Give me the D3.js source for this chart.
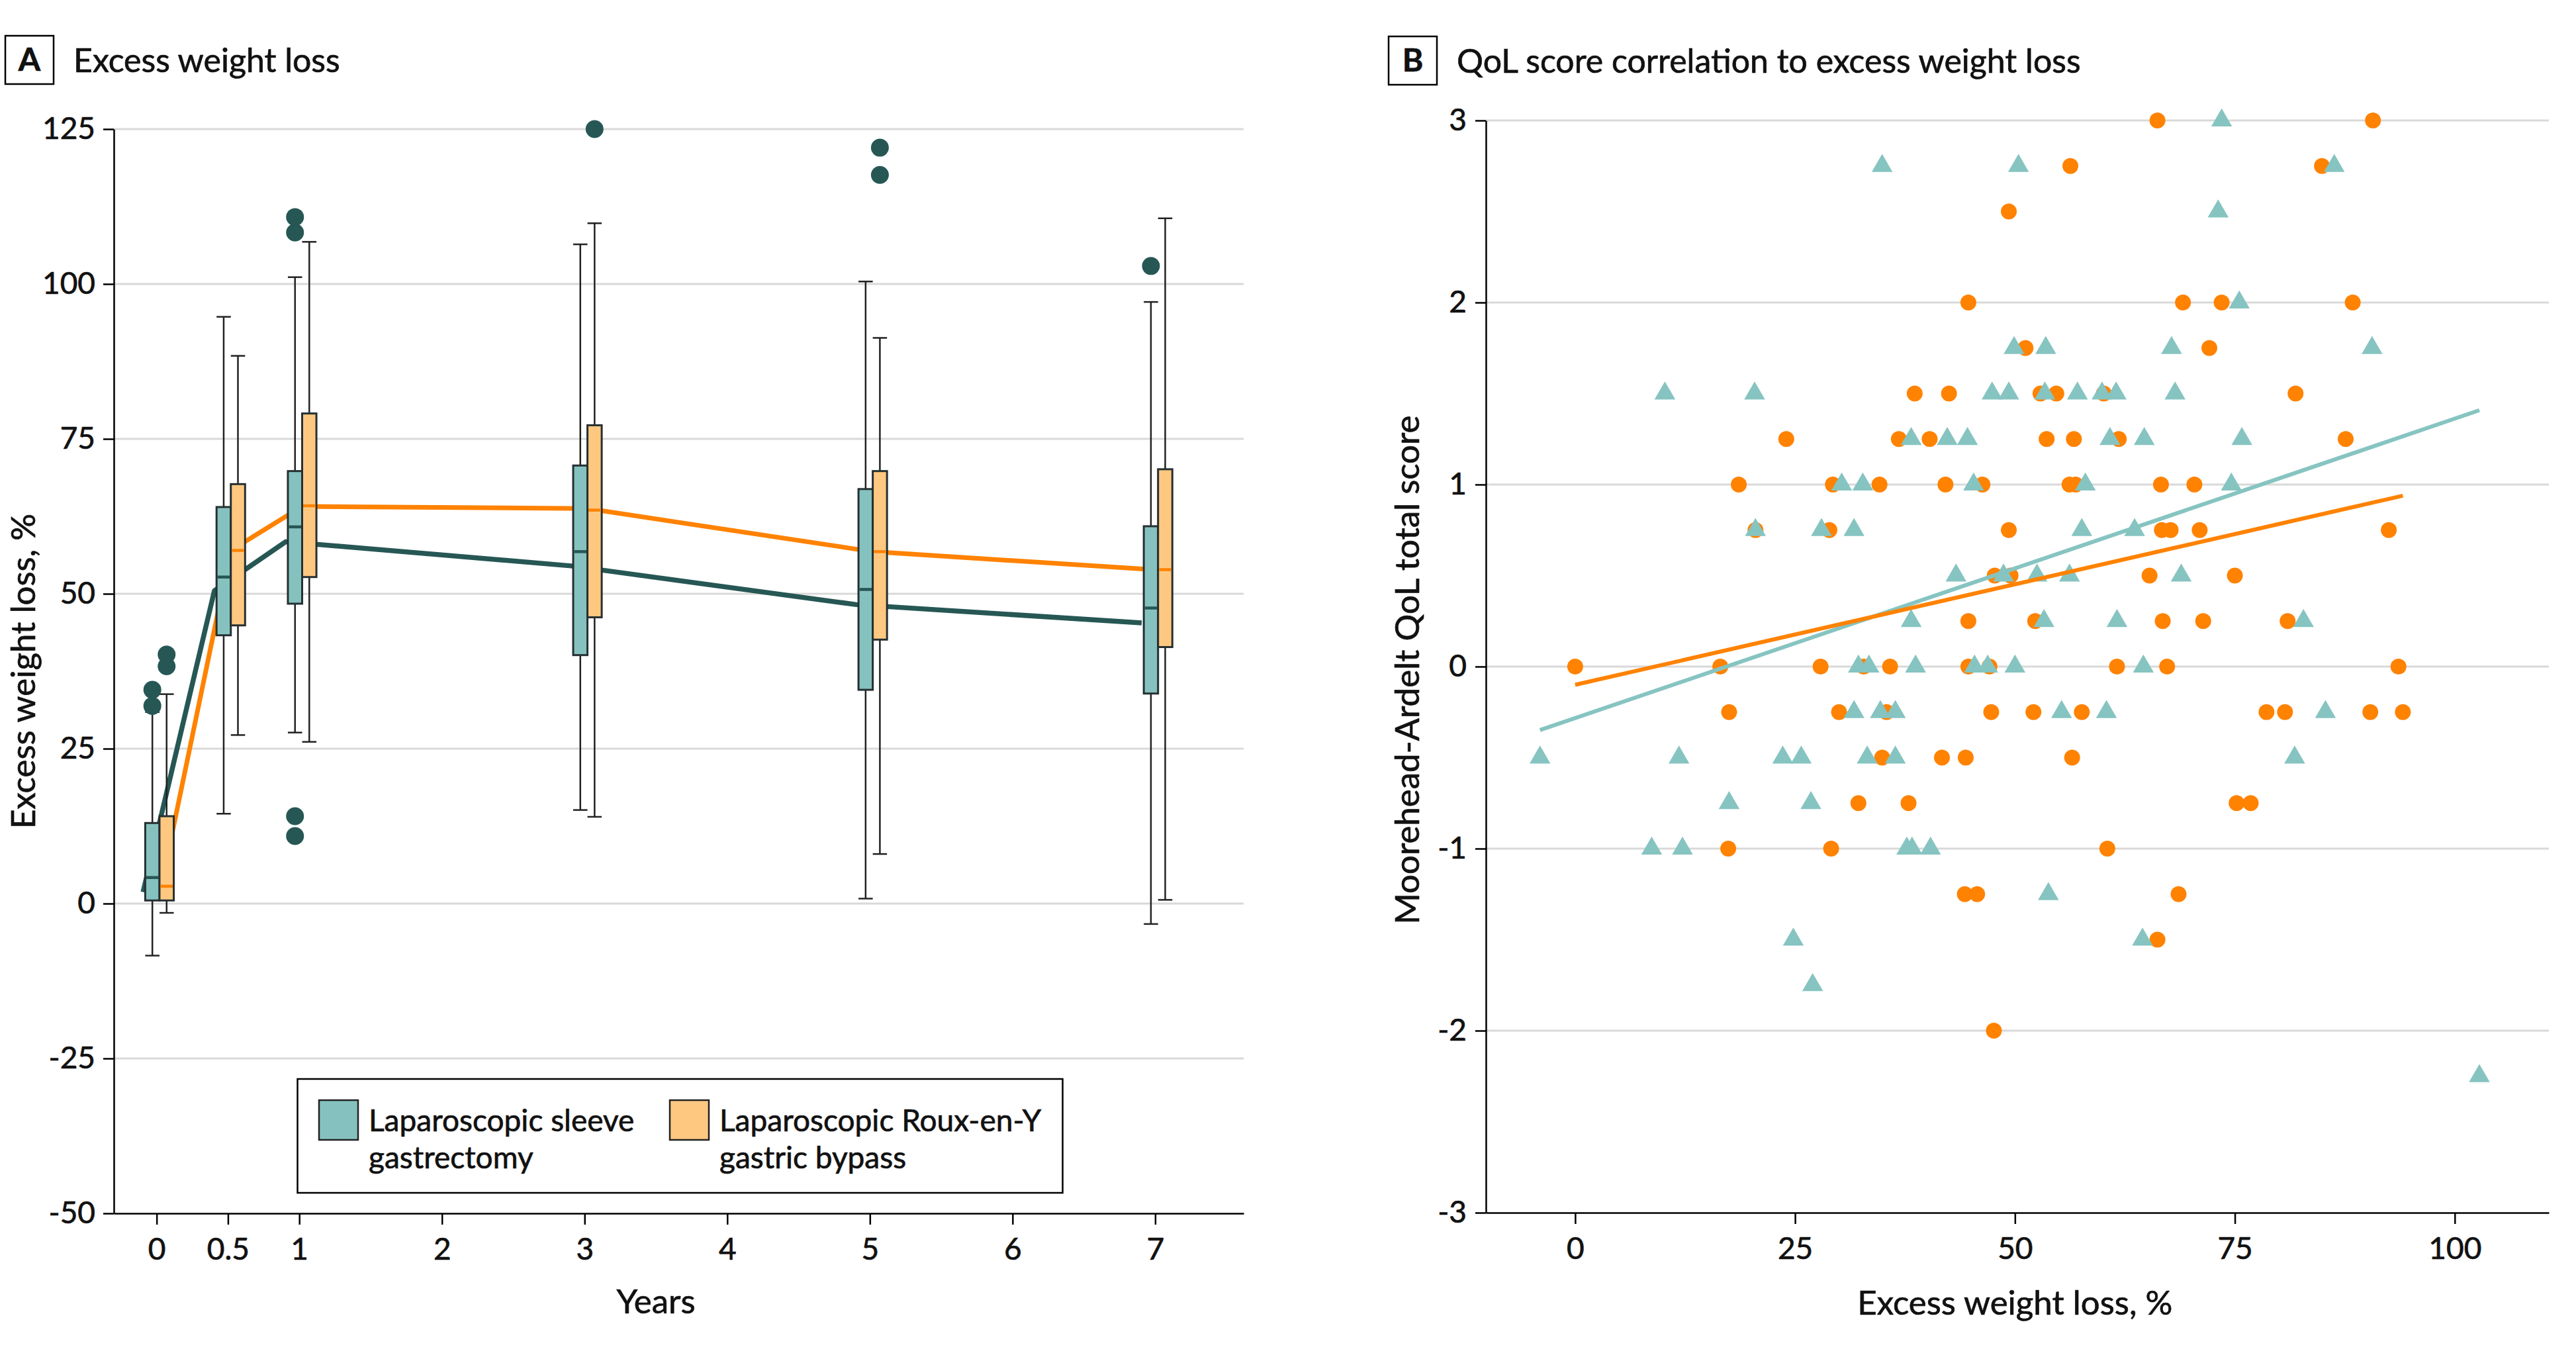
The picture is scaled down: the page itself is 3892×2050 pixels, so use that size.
<!DOCTYPE html>
<html><head><meta charset="utf-8">
<script src="https://cdn.jsdelivr.net/npm/d3@7"></script>
<style>
html,body{margin:0;padding:0;background:#fff;}
svg{display:block;}
</style></head><body>
<svg id="chart" width="3892" height="2050"></svg>
<script>
// ================= DATA =================
// Panel A: excess weight loss (%) box plots by year
const years = [0, 0.5, 1, 3, 5, 7];
const yearTicks = [0, 0.5, 1, 2, 3, 4, 5, 6, 7];
const ewlTicks = [-50, -25, 0, 25, 50, 75, 100, 125];

// Laparoscopic sleeve gastrectomy (LSG)
const lsgWhiskerLow  = [-8.4, 14.5, 27.6, 15.1, 0.8, -3.3];
const lsgQ1          = [0.5, 43.3, 48.4, 40.1, 34.5, 33.9];
const lsgMedian      = [4.2, 52.7, 60.8, 56.8, 50.7, 47.7];
const lsgQ3          = [13.0, 64.0, 69.8, 70.7, 66.9, 60.9];
const lsgWhiskerHigh = [30.9, 94.7, 101.1, 106.4, 100.4, 97.1];
const lsgOutlierYear = [0, 0, 1, 1, 1, 1, 7];
const lsgOutlierEWL  = [31.9, 34.5, 108.3, 110.8, 14.1, 10.9, 102.9];
const lsgTrend       = [1.85, 50.5, 58.4, 54.5, 48.25, 45.3];

// Laparoscopic Roux-en-Y gastric bypass (LRYGB)
const rygbWhiskerLow  = [-1.5, 27.2, 26.1, 14.0, 8.0, 0.6];
const rygbQ1          = [0.5, 44.9, 52.7, 46.2, 42.6, 41.4];
const rygbMedian      = [2.8, 57.0, 64.2, 63.5, 56.8, 53.9];
const rygbQ3          = [14.1, 67.7, 79.1, 77.2, 69.8, 70.1];
const rygbWhiskerHigh = [33.8, 88.4, 106.8, 109.8, 91.3, 110.6];
const rygbOutlierYear = [0, 0, 3, 5, 5];
const rygbOutlierEWL  = [38.3, 40.2, 125.0, 117.6, 122.0];
const rygbTrend       = [1.5, 57.0, 64.1, 63.75, 56.8, 53.85];

const legendLabels = [["Laparoscopic sleeve", "gastrectomy"], ["Laparoscopic Roux-en-Y", "gastric bypass"]];

// Panel B: QoL score vs excess weight loss
const qolTicks = [-3, -2, -1, 0, 1, 2, 3];
const ewlTicksB = [0, 25, 50, 75, 100];

const lsgEWL = [
  73.5,
  34.9, 50.4, 86.3,
  73.1,
  75.5,
  49.9, 53.5, 67.8, 90.6,
  10.2, 20.4, 47.4, 49.3, 53.4, 57.1, 59.9, 61.5, 68.2,
  38.2, 42.3, 44.6, 60.8, 64.7, 75.8,
  30.3, 32.7, 45.3, 58.0, 74.6,
  20.5, 28.0, 31.7, 57.6, 63.6,
  43.3, 48.7, 52.5, 56.2, 68.9,
  38.2, 53.3, 61.6, 82.8,
  32.2, 33.4, 38.7, 45.4, 46.9, 50.0, 64.6,
  31.7, 34.7, 36.4, 55.3, 60.4, 85.3,
  -4.0, 11.8, 23.6, 25.7, 33.2, 36.4, 81.8,
  17.5, 26.8,
  8.7, 12.2, 37.7, 38.3, 40.4,
  53.8,
  24.8, 64.5,
  27.0,
  102.8
];
const lsgQoL = [
  3,
  2.75, 2.75, 2.75,
  2.5,
  2,
  1.75, 1.75, 1.75, 1.75,
  1.5, 1.5, 1.5, 1.5, 1.5, 1.5, 1.5, 1.5, 1.5,
  1.25, 1.25, 1.25, 1.25, 1.25, 1.25,
  1, 1, 1, 1, 1,
  0.75, 0.75, 0.75, 0.75, 0.75,
  0.5, 0.5, 0.5, 0.5, 0.5,
  0.25, 0.25, 0.25, 0.25,
  0, 0, 0, 0, 0, 0, 0,
  -0.25, -0.25, -0.25, -0.25, -0.25, -0.25,
  -0.5, -0.5, -0.5, -0.5, -0.5, -0.5, -0.5,
  -0.75, -0.75,
  -1, -1, -1, -1, -1,
  -1.25,
  -1.5, -1.5,
  -1.75,
  -2.25
];

const rygbEWL = [
  66.2, 90.7,
  56.3, 84.9,
  49.3,
  44.7, 69.1, 73.5, 88.4,
  51.2, 72.1,
  38.6, 42.5, 52.9, 54.7, 60.1, 81.9,
  24.0, 36.8, 40.3, 53.6, 56.7, 61.8, 87.6,
  18.6, 29.3, 34.6, 42.1, 46.3, 56.2, 56.9, 66.6, 70.4,
  20.5, 28.9, 49.3, 66.7, 67.7, 71.0, 92.5,
  47.7, 49.5, 65.3, 75.0,
  44.7, 52.3, 66.8, 71.4, 81.0,
  0.0, 16.5, 27.9, 32.8, 35.8, 44.7, 47.1, 61.6, 67.3, 93.6,
  17.5, 30.0, 35.4, 47.3, 52.1, 57.6, 78.6, 80.7, 90.4, 94.1,
  34.9, 41.7, 44.4, 56.5,
  32.2, 37.9, 75.2, 76.8,
  17.4, 29.1, 60.5,
  44.3, 45.7, 68.6,
  66.2,
  47.6
];
const rygbQoL = [
  3, 3,
  2.75, 2.75,
  2.5,
  2, 2, 2, 2,
  1.75, 1.75,
  1.5, 1.5, 1.5, 1.5, 1.5, 1.5,
  1.25, 1.25, 1.25, 1.25, 1.25, 1.25, 1.25,
  1, 1, 1, 1, 1, 1, 1, 1, 1,
  0.75, 0.75, 0.75, 0.75, 0.75, 0.75, 0.75,
  0.5, 0.5, 0.5, 0.5,
  0.25, 0.25, 0.25, 0.25, 0.25,
  0, 0, 0, 0, 0, 0, 0, 0, 0, 0,
  -0.25, -0.25, -0.25, -0.25, -0.25, -0.25, -0.25, -0.25, -0.25, -0.25,
  -0.5, -0.5, -0.5, -0.5,
  -0.75, -0.75, -0.75, -0.75,
  -1, -1, -1,
  -1.25, -1.25, -1.25,
  -1.5,
  -2
];

// fitted regression lines: [intercept, slope]
const lsgFit  = [-0.283, 0.01645];
const rygbFit = [-0.10, 0.01104];

// ================= STYLE / LAYOUT =================
const FONT = 'Lato, "Noto Sans", sans-serif';
const FS = 46;        // tick labels, legend
const FS_AXIS = 51;   // axis titles
const FS_TITLE = 50;  // panel titles
const C = {
  tealBox: "#85C2BF", orangeBox: "#FFC880", dark: "#265754", orange: "#FF8200",
  tri: "#86C4C1", grid: "#d9d9d9", ink: "#111", boxLine: "#263032"
};
const svg = d3.select("#chart");

function txt(sel, size) {
  return sel.attr("font-family", FONT).attr("font-size", size).attr("fill", C.ink)
    .attr("stroke", C.ink).attr("stroke-width", 0.7);
}
function styleAxis(g) {
  g.select(".domain").attr("stroke", "#000").attr("stroke-width", 2.5);
  g.selectAll(".tick line").attr("stroke", "#000").attr("stroke-width", 2.5);
  txt(g.selectAll(".tick text"), FS);
}
const fmt = d => String(d);

function panelLabel(x, y, letter, title) {
  svg.append("rect").attr("x", x).attr("y", y).attr("width", 73).attr("height", 73)
    .attr("fill", "#fff").attr("stroke", "#000").attr("stroke-width", 2.5);
  txt(svg.append("text").attr("x", x + 36.5).attr("y", y + 53).attr("text-anchor", "middle"), FS + 2)
    .attr("font-weight", 700).text(letter);
  txt(svg.append("text").attr("x", x + 103).attr("y", y + 55), FS_TITLE).text(title);
}

// ================= PANEL A =================
const xA = d3.scaleLinear().domain([-0.3, 7.62]).range([172, 1879]);
const yA = d3.scaleLinear().domain([-50, 125]).range([1833, 195]);
const gA = svg.append("g");

gA.append("g").selectAll("line").data(ewlTicks.filter(d => d > -50)).join("line")
  .attr("x1", xA.range()[0]).attr("x2", xA.range()[1])
  .attr("y1", d => yA(d)).attr("y2", d => yA(d))
  .attr("stroke", C.grid).attr("stroke-width", 3);

const boxW = xA(0.1) - xA(0);
const groups = [
  {off: -0.03, lineOff: -0.095, fill: C.tealBox, med: C.dark, line: C.dark, lw: 7.5,
   lo: lsgWhiskerLow, q1: lsgQ1, md: lsgMedian, q3: lsgQ3, hi: lsgWhiskerHigh,
   oy: lsgOutlierYear, ov: lsgOutlierEWL, trend: lsgTrend},
  {off: 0.07, lineOff: 0.02, fill: C.orangeBox, med: C.orange, line: C.orange, lw: 7,
   lo: rygbWhiskerLow, q1: rygbQ1, md: rygbMedian, q3: rygbQ3, hi: rygbWhiskerHigh,
   oy: rygbOutlierYear, ov: rygbOutlierEWL, trend: rygbTrend}
];

// trend lines (behind boxes)
groups.forEach(g => {
  const ln = d3.line().x((d, i) => xA(years[i] + g.lineOff)).y(d => yA(d));
  gA.append("path").attr("d", ln(g.trend)).attr("fill", "none")
    .attr("stroke", g.line).attr("stroke-width", g.lw).attr("stroke-linejoin", "round");
});

groups.forEach(g => {
  const gg = gA.append("g");
  years.forEach((yr, i) => {
    const cx = xA(yr + g.off);
    gg.append("line").attr("x1", cx).attr("x2", cx).attr("y1", yA(g.lo[i])).attr("y2", yA(g.hi[i]))
      .attr("stroke", "#222").attr("stroke-width", 2.5);
    [g.lo[i], g.hi[i]].forEach(v => {
      gg.append("line").attr("x1", cx - boxW / 2).attr("x2", cx + boxW / 2)
        .attr("y1", yA(v)).attr("y2", yA(v)).attr("stroke", "#222").attr("stroke-width", 2.5);
    });
    gg.append("rect").attr("x", cx - boxW / 2).attr("width", boxW)
      .attr("y", yA(g.q3[i])).attr("height", yA(g.q1[i]) - yA(g.q3[i]))
      .attr("fill", g.fill).attr("stroke", C.boxLine).attr("stroke-width", 3);
    gg.append("line").attr("x1", cx - boxW / 2 + 1.5).attr("x2", cx + boxW / 2 - 1.5)
      .attr("y1", yA(g.md[i])).attr("y2", yA(g.md[i]))
      .attr("stroke", g.med).attr("stroke-width", 4.5);
  });
});
groups.forEach(g => {
  gA.append("g").selectAll("circle").data(g.ov).join("circle")
    .attr("cx", (d, i) => xA(g.oy[i] + g.off)).attr("cy", d => yA(d)).attr("r", 13.5)
    .attr("fill", C.dark);
});

const axLA = gA.append("g").attr("transform", `translate(${xA.range()[0]},0)`)
  .call(d3.axisLeft(yA).tickValues(ewlTicks).tickSize(16).tickSizeOuter(0).tickPadding(12).tickFormat(fmt));
styleAxis(axLA);
const axBA = gA.append("g").attr("transform", `translate(0,${yA.range()[0]})`)
  .call(d3.axisBottom(xA).tickValues(yearTicks).tickSize(17).tickSizeOuter(0).tickPadding(20).tickFormat(fmt));
styleAxis(axBA);

txt(gA.append("text").attr("x", (xA(0) + xA(7)) / 2).attr("y", 1984).attr("text-anchor", "middle"), FS_AXIS)
  .text("Years");
txt(gA.append("text").attr("transform", `translate(53,${(yA.range()[0] + yA.range()[1]) / 2}) rotate(-90)`)
  .attr("text-anchor", "middle"), FS_AXIS).text("Excess weight loss, %");

// legend
const lg = gA.append("g");
lg.append("rect").attr("x", 449.5).attr("y", 1630).attr("width", 1156).attr("height", 172)
  .attr("fill", "#fff").attr("stroke", "#000").attr("stroke-width", 2.5);
[{x: 482, fill: C.tealBox}, {x: 1012, fill: C.orangeBox}].forEach((s, k) => {
  lg.append("rect").attr("x", s.x).attr("y", 1662).attr("width", 59).attr("height", 60)
    .attr("fill", s.fill).attr("stroke", "#222").attr("stroke-width", 2.5);
  legendLabels[k].forEach((t, j) => {
    txt(lg.append("text").attr("x", s.x + 75).attr("y", 1709 + j * 56), FS).text(t);
  });
});

panelLabel(8, 54, "A", "Excess weight loss");

// ================= PANEL B =================
const xB = d3.scaleLinear().domain([-10.15, 110.7]).range([2245, 3851]);
const yB = d3.scaleLinear().domain([-3, 3]).range([1832, 182]);
const gB = svg.append("g");

gB.append("g").selectAll("line").data(qolTicks.filter(d => d > -3)).join("line")
  .attr("x1", xB.range()[0]).attr("x2", xB.range()[1])
  .attr("y1", d => yB(d)).attr("y2", d => yB(d))
  .attr("stroke", C.grid).attr("stroke-width", 3);

gB.append("g").selectAll("circle").data(rygbEWL).join("circle")
  .attr("cx", d => xB(d)).attr("cy", (d, i) => yB(rygbQoL[i])).attr("r", 12)
  .attr("fill", C.orange);
const tri = d3.symbol(d3.symbolTriangle, 430);
gB.append("g").selectAll("path").data(lsgEWL).join("path")
  .attr("d", tri).attr("transform", (d, i) => `translate(${xB(d)},${yB(lsgQoL[i])})`)
  .attr("fill", C.tri);

[{fit: lsgFit, xs: lsgEWL, col: C.tri}, {fit: rygbFit, xs: rygbEWL, col: C.orange}].forEach(f => {
  const ext = d3.extent(f.xs);
  gB.append("line").attr("x1", xB(ext[0])).attr("x2", xB(ext[1]))
    .attr("y1", yB(f.fit[0] + f.fit[1] * ext[0])).attr("y2", yB(f.fit[0] + f.fit[1] * ext[1]))
    .attr("stroke", f.col).attr("stroke-width", 6);
});

const axLB = gB.append("g").attr("transform", `translate(${xB.range()[0]},0)`)
  .call(d3.axisLeft(yB).tickValues(qolTicks).tickSize(16).tickSizeOuter(0).tickPadding(13).tickFormat(fmt));
styleAxis(axLB);
const axBB = gB.append("g").attr("transform", `translate(0,${yB.range()[0]})`)
  .call(d3.axisBottom(xB).tickValues(ewlTicksB).tickSize(17).tickSizeOuter(0).tickPadding(20).tickFormat(fmt));
styleAxis(axBB);

txt(gB.append("text").attr("x", (xB(0) + xB(100)) / 2).attr("y", 1986).attr("text-anchor", "middle"), FS_AXIS)
  .text("Excess weight loss, %");
txt(gB.append("text").attr("transform", `translate(2144,${(yB.range()[0] + yB.range()[1]) / 2 + 5}) rotate(-90)`)
  .attr("text-anchor", "middle"), FS_AXIS).text("Moorehead-Ardelt QoL total score");

panelLabel(2098, 55, "B", "QoL score correlation to excess weight loss");
</script>
</body></html>
